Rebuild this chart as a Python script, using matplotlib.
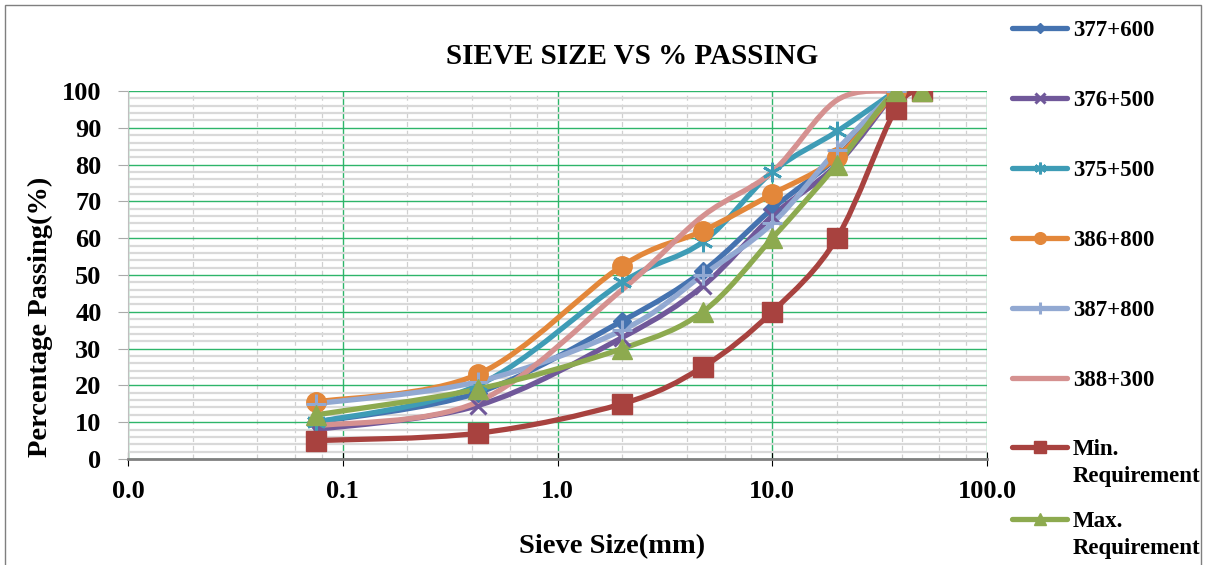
import numpy as np
import matplotlib.pyplot as plt
from matplotlib.path import Path
from matplotlib.patches import PathPatch, Rectangle
from matplotlib.lines import Line2D
from matplotlib.ticker import FixedLocator, FuncFormatter, LogLocator, MultipleLocator, NullFormatter

plt.rcParams['font.family'] = ['Liberation Serif', 'DejaVu Serif']
plt.rcParams['font.weight'] = 'bold'

# sieve sizes (mm)
sieve = [0.075, 0.425, 2.0, 4.75, 10, 20, 37.5]
sieve_req = [0.075, 0.425, 2.0, 4.75, 10, 20, 37.5, 50]

# % passing per chainage
ch_377_600 = [10, 18, 37.5, 51, 68, 82, 100]
ch_376_500 = [8, 14.5, 33, 47, 66, 80, 100]
ch_375_500 = [10, 20, 48, 59, 78, 89, 100]
ch_386_800 = [15.5, 23, 52.5, 62, 72, 82, 100]
ch_387_800 = [15, 21, 35, 50, 64, 84, 100]
ch_388_300 = [9, 15.5, 46, 66, 78, 97.5, 100]
min_req = [5, 7, 15, 25, 40, 60, 95, 100]
max_req = [12, 19, 30, 40, 60, 80, 100, 100]

series = [
    ('377+600', sieve, ch_377_600, '#4573B0', 'D', 9, 1),
    ('376+500', sieve, ch_376_500, '#70589A', 'x', 12, 2.2),
    ('375+500', sieve, ch_375_500, '#3E9CB6', (6, 2, 0), 14, 2),
    ('386+800', sieve, ch_386_800, '#E3873A', 'o', 14, 1),
    ('387+800', sieve, ch_387_800, '#92A9D2', '+', 14, 2.2),
    ('388+300', sieve, ch_388_300, '#D59190', None, 0, 1),
    ('Min.\nRequirement', sieve_req, min_req, '#A8423F', 's', 14, 1),
    ('Max.\nRequirement', sieve_req, max_req, '#8DAA4F', '^', 15, 1),
]

W, H = 1213, 565
# legend rows: pixel y of first text line of each entry
legend_rows = [28, 98, 168, 238, 308, 378, 447, 519]


def smooth_path(xs, ys):
    # Excel-like smoothed line: cubic bezier segments in log-x space
    lx = np.log10(np.asarray(xs, float))
    y = np.asarray(ys, float)
    n = len(lx)
    verts = [(lx[0], y[0])]
    codes = [Path.MOVETO]
    for i in range(n - 1):
        i0 = max(i - 1, 0)
        i3 = min(i + 2, n - 1)
        c1 = (lx[i] + (lx[i + 1] - lx[i0]) / 6, y[i] + (y[i + 1] - y[i0]) / 6)
        c2 = (lx[i + 1] - (lx[i3] - lx[i]) / 6, y[i + 1] - (y[i3] - y[i]) / 6)
        verts += [c1, c2, (lx[i + 1], y[i + 1])]
        codes += [Path.CURVE4] * 3
    verts = [(10 ** vx, vy) for vx, vy in verts]
    return Path(verts, codes)


fig = plt.figure(figsize=(W / 100, H / 100), dpi=100)
ax = fig.add_axes([128 / W, 1 - 459 / H, (987 - 128) / W, (459 - 91) / H])

ax.set_xscale('log')
ax.set_xlim(0.01, 100)
ax.set_ylim(0, 100)

# grid
ax.xaxis.set_major_locator(FixedLocator([0.01, 0.1, 1, 10, 100]))
ax.xaxis.set_major_formatter(FuncFormatter(lambda v, p: f'{v:.1f}'))
ax.xaxis.set_minor_locator(LogLocator(base=10, subs=[2, 4, 6, 8]))
ax.xaxis.set_minor_formatter(NullFormatter())
ax.yaxis.set_major_locator(MultipleLocator(10))
ax.yaxis.set_minor_locator(MultipleLocator(2))
ax.grid(which='minor', axis='y', color='#D9D9D9', lw=1.6, zorder=0)
ax.grid(which='minor', axis='x', color='#D0D0D0', lw=0.9, ls=(0, (4, 3)), zorder=0)
ax.grid(which='major', axis='both', color='#2EB56A', lw=1.0, zorder=0.5)
ax.set_axisbelow(True)

for label, xs, ys, c, m, ms, mew in series:
    ax.add_patch(PathPatch(smooth_path(xs, ys), fill=False, edgecolor=c, lw=3.8,
                           capstyle='round', joinstyle='round', zorder=2))
    if m is not None:
        ax.plot(xs, ys, ls='none', marker=m, ms=ms, color=c, mec=c, mew=mew, zorder=3)

for s in ['top', 'right']:
    ax.spines[s].set_visible(False)
ax.spines['left'].set_color('#BFBFBF')
ax.spines['bottom'].set_color('#808080')
ax.spines['bottom'].set_linewidth(2)

ax.tick_params(axis='y', which='major', length=7, color='#AAAAAA', pad=12, labelsize=19)
ax.tick_params(axis='x', which='major', direction='inout', length=10, color='black', pad=10, labelsize=19)
ax.tick_params(which='minor', length=0)

fig.text(632 / W, 1 - 56 / H, 'SIEVE SIZE VS % PASSING', ha='center', va='center',
         fontsize=21, fontweight='bold')
fig.text(40 / W, 1 - 317 / H, 'Percentage Passing(%)', ha='center', va='center',
         rotation=90, fontsize=20.5, fontweight='bold')
fig.text(612 / W, 1 - 547 / H, 'Sieve Size(mm)', ha='center', va='center',
         fontsize=20.5, fontweight='bold')

# legend on the right, laid out like the Excel chart
for (label, xs, ys, c, m, ms, mew), py in zip(series, legend_rows):
    yf = 1 - py / H
    fig.add_artist(Line2D([1012 / W, 1067 / W], [yf, yf], transform=fig.transFigure,
                          color=c, lw=3.8, solid_capstyle='round'))
    if m is not None:
        fig.add_artist(Line2D([1040 / W], [yf], transform=fig.transFigure, ls='none',
                              marker=m, ms=ms * 0.6, color=c, mec=c, mew=mew))
    fig.text(1073 / W, 1 - (py - 8) / H, label, ha='left', va='top', fontsize=16.5,
             fontweight='bold', linespacing=1.4)

fig.patches.append(Rectangle((5 / W, -0.02), (1201 - 5) / W, 1.02 - 5 / H,
                             transform=fig.transFigure, fill=False, edgecolor='#7F7F7F',
                             lw=1, zorder=10))

fig.savefig('out.png', dpi=100)
